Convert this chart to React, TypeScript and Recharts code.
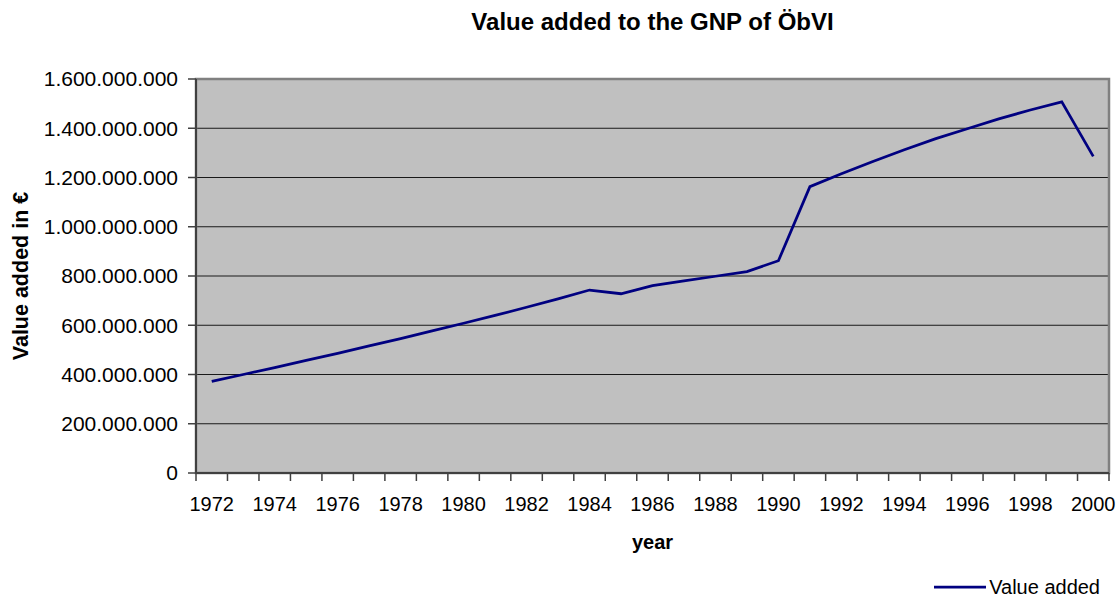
import React from "react";
import {
  LineChart,
  Line,
  XAxis,
  YAxis,
  CartesianGrid,
  Legend,
  ReferenceArea,
} from "recharts";

// yearly series (values in million €)
const years = [
  1972, 1973, 1974, 1975, 1976, 1977, 1978, 1979, 1980, 1981, 1982, 1983, 1984,
  1985, 1986, 1987, 1988, 1989, 1990, 1991, 1992, 1993, 1994, 1995, 1996, 1997,
  1998, 1999, 2000,
];
const valueAddedMio = [
  372, 400, 428, 457, 486, 516, 546, 577, 608, 640, 673, 707, 743,
  728, 761, 780, 799, 818, 862, 1163, 1215, 1265, 1313, 1358, 1398, 1438,
  1474, 1507, 1286,
];
const yTicks = [0, 200e6, 400e6, 600e6, 800e6, 1000e6, 1200e6, 1400e6, 1600e6];

const data = years.map((year, i) => ({ year, value: valueAddedMio[i] * 1e6 }));

const W = 1120;
const H = 599;
const MARGIN = { top: 79, right: 11, bottom: 0, left: 0 };
const Y_AXIS_W = 196;
const PLOT_W = W - MARGIN.left - MARGIN.right - Y_AXIS_W;

const xMin = years[0] - 0.5;
const xMax = years[years.length - 1] + 0.5;
// tick marks sit on the category boundaries, labels in between
const xBoundaries = [...years.map((y) => y - 0.5), xMax];

const fmtDots = (v: number) => String(Math.round(v)).replace(/\B(?=(\d{3})+(?!\d))/g, ".");

const axisColor = "#404040";
const lineColor = "#000080";

function YearTick(props: any) {
  const { x, y, payload } = props;
  const w = typeof props.width === "number" && props.width > 0 ? props.width : PLOT_W;
  const half = w / (2 * years.length);
  const yr = payload.value + 0.5;
  if (yr > years[years.length - 1] || (yr - years[0]) % 2 !== 0) return <g />;
  return (
    <text x={x + half} y={y} dy="0.71em" textAnchor="middle" fontSize={20} fill="#000">
      {yr}
    </text>
  );
}

function LegendBox() {
  return (
    <div
      style={{
        display: "flex",
        justifyContent: "flex-end",
        alignItems: "center",
        paddingRight: 9,
        fontSize: 20,
        color: "#000",
        height: 24,
      }}
    >
      <svg width={52} height={6} style={{ marginRight: 3 }}>
        <line x1={0} y1={3} x2={52} y2={3} stroke={lineColor} strokeWidth={2.75} />
      </svg>
      <span>Value added</span>
    </div>
  );
}

export default function App() {
  return (
    <div
      style={{
        position: "absolute",
        left: 0,
        top: 0,
        width: W,
        height: H,
        background: "#fff",
        fontFamily: "Arial, 'Liberation Sans', sans-serif",
      }}
    >
      <div
        style={{
          position: "absolute",
          top: 8,
          left: Y_AXIS_W,
          width: PLOT_W,
          textAlign: "center",
          fontSize: 24,
          fontWeight: "bold",
          color: "#000",
        }}
      >
        Value added to the GNP of ÖbVI
      </div>
      <LineChart width={W} height={H} data={data} margin={MARGIN}>
        <CartesianGrid
          vertical={false}
          fill="#C0C0C0"
          fillOpacity={1}
          stroke="#1a1a1a"
          strokeWidth={1}
        />
        <ReferenceArea
          x1={xMin}
          x2={xMax}
          y1={yTicks[0]}
          y2={yTicks[yTicks.length - 1]}
          fill="none"
          stroke="#808080"
          strokeWidth={2.5}
          ifOverflow="visible"
        />
        <XAxis
          dataKey="year"
          type="number"
          domain={[xMin, xMax]}
          ticks={xBoundaries}
          interval={0}
          allowDecimals
          height={102}
          tickSize={8}
          tickMargin={16}
          tick={<YearTick />}
          stroke={axisColor}
          axisLine={{ stroke: axisColor, strokeWidth: 2 }}
          tickLine={{ stroke: axisColor, strokeWidth: 1.5 }}
          label={{
            value: "year",
            position: "insideBottom",
            offset: 26,
            fontSize: 20,
            fontWeight: "bold",
            fill: "#000",
          }}
        />
        <YAxis
          type="number"
          domain={[yTicks[0], yTicks[yTicks.length - 1]]}
          ticks={yTicks}
          interval={0}
          width={Y_AXIS_W}
          tickSize={8}
          tickMargin={10}
          tickFormatter={fmtDots}
          tick={{ fontSize: 21, fill: "#000" }}
          axisLine={{ stroke: axisColor, strokeWidth: 2 }}
          tickLine={{ stroke: axisColor, strokeWidth: 1.5 }}
          label={{
            value: "Value added in €",
            angle: -90,
            position: "insideLeft",
            offset: 20,
            fontSize: 21.5,
            fontWeight: "bold",
            fill: "#000",
            style: { textAnchor: "middle" },
          }}
        />
        <Legend verticalAlign="bottom" align="right" height={24} content={() => <LegendBox />} />
        <Line
          type="linear"
          dataKey="value"
          name="Value added"
          stroke={lineColor}
          strokeWidth={2.75}
          dot={false}
          activeDot={false}
          isAnimationActive={false}
        />
      </LineChart>
    </div>
  );
}
